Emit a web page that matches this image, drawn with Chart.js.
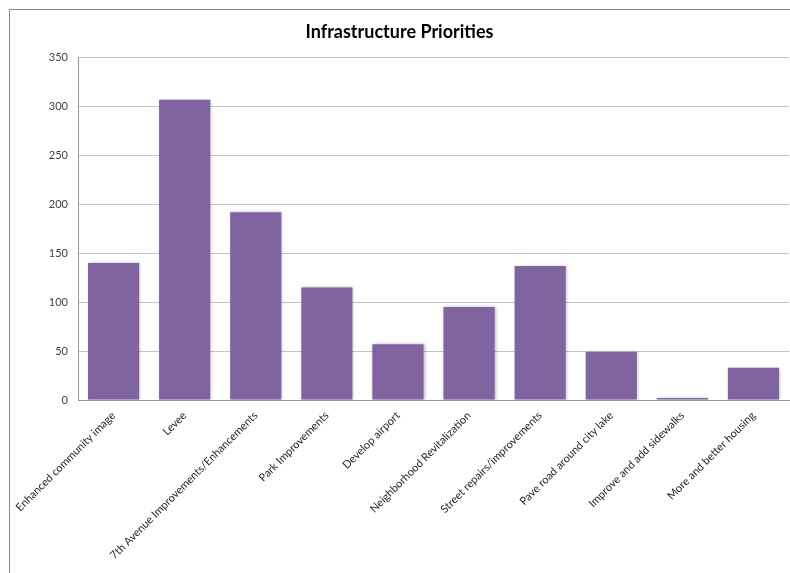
<!DOCTYPE html>
<html lang="en">
<head>
    <meta charset="UTF-8">
    <title>Infrastructure Priorities</title>
    <script src="https://cdn.jsdelivr.net/npm/chart.js"></script>
    <style>
        html, body {
            margin: 0;
            padding: 0;
            background: #ffffff;
            overflow: hidden;
        }

        .wrap {
            position: relative;
            width: 790px;
            height: 573px;
        }

        /* outer chart frame, runs off the right and bottom edges */
        .frame {
            position: absolute;
            left: 9px;
            top: 9px;
            width: 900px;
            height: 900px;
            border: 1px solid #8a8a8a;
            pointer-events: none;
        }
    </style>
</head>
<body>
    <div class="wrap">
        <canvas id="priorityChart"></canvas>
        <div class="frame"></div>
    </div>

    <script>
        const categories = [
            'Enhanced community image',
            'Levee',
            '7th Avenue Improvements/Enhancements',
            'Park Improvements',
            'Develop airport',
            'Neighborhood Revitalization',
            'Street repairs/improvements',
            'Pave road around city lake',
            'Improve and add sidewalks',
            'More and better housing'
        ];
        const responses = [140, 307, 192, 115, 57, 95, 137, 49, 2, 33];
        const yTicks = [0, 50, 100, 150, 200, 250, 300, 350];

        const labelFont = { family: 'Lato, "Open Sans", sans-serif', size: 11 };

        // soft halo around each bar
        const barShadow = {
            id: 'barShadow',
            beforeDatasetsDraw(chart) {
                const ctx = chart.ctx;
                ctx.save();
                ctx.shadowColor = 'rgba(0, 0, 0, 0.28)';
                ctx.shadowBlur = 3;
                ctx.shadowOffsetX = 1;
                ctx.shadowOffsetY = 0;
            },
            afterDatasetsDraw(chart) {
                chart.ctx.restore();
            }
        };

        new Chart(document.getElementById('priorityChart'), {
            type: 'bar',
            data: {
                labels: categories,
                datasets: [{
                    label: 'Responses',
                    data: responses,
                    backgroundColor: '#8064a2',
                    borderWidth: 0,
                    barPercentage: 0.72,
                    categoryPercentage: 1.0
                }]
            },
            options: {
                responsive: true,
                maintainAspectRatio: false,
                animation: false,
                layout: {
                    padding: { left: 10, right: 1, top: 0, bottom: 0 }
                },
                plugins: {
                    legend: { display: false },
                    tooltip: { enabled: false },
                    title: {
                        display: true,
                        text: 'Infrastructure Priorities',
                        color: '#000000',
                        font: { family: 'Lato, "Open Sans", sans-serif', size: 18, weight: 'bold' },
                        padding: { top: 21, bottom: 15 }
                    }
                },
                scales: {
                    x: {
                        grid: { display: false, drawTicks: false },
                        border: { display: true, color: '#9a9a9a', width: 1 },
                        ticks: {
                            autoSkip: false,
                            maxRotation: 45,
                            minRotation: 45,
                            padding: 9,
                            color: '#262626',
                            font: labelFont
                        },
                        afterFit(scale) {
                            scale.height = 173;
                            scale.paddingLeft = 0;
                            scale.paddingRight = 0;
                        }
                    },
                    y: {
                        min: 0,
                        max: 350,
                        afterBuildTicks(scale) {
                            scale.ticks = yTicks.map(v => ({ value: v }));
                        },
                        grid: { color: '#c4c4c4', drawTicks: false },
                        border: { display: true, color: '#9a9a9a', width: 1 },
                        ticks: {
                            padding: 10,
                            color: '#404040',
                            font: labelFont
                        },
                        afterFit(scale) {
                            scale.width = 68;
                            scale.paddingTop = 0;
                            scale.paddingBottom = 0;
                        }
                    }
                }
            },
            plugins: [barShadow]
        });
    </script>
</body>
</html>
